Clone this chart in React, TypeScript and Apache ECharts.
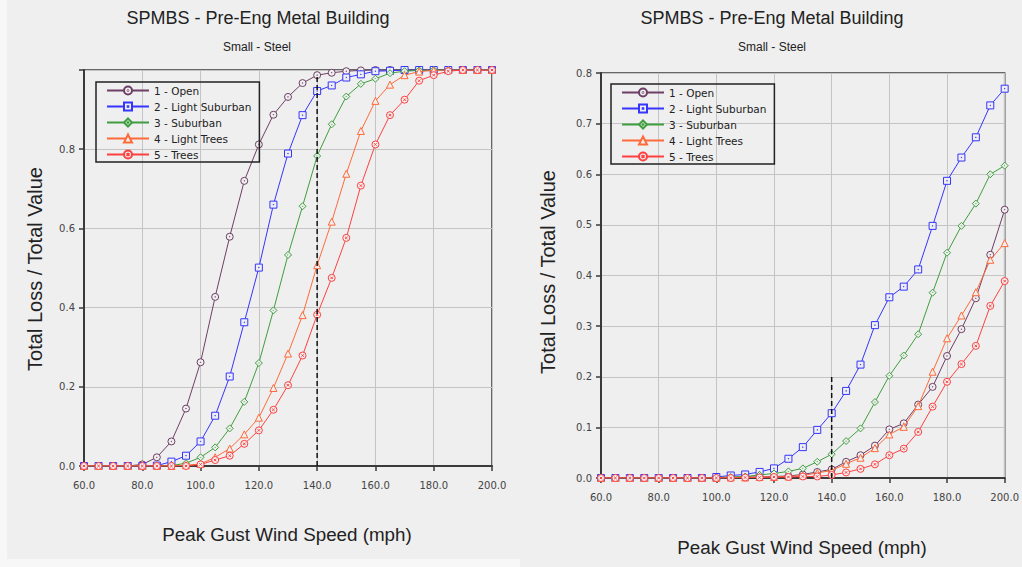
import React, { useEffect, useRef } from "react";
import * as echarts from "echarts";

// ---------- data ----------
const speeds = [60, 65, 70, 75, 80, 85, 90, 95, 100, 105, 110, 115, 120, 125, 130, 135, 140, 145, 150, 155, 160, 165, 170, 175, 180, 185, 190, 195, 200];
const seriesNames = ["1 - Open", "2 - Light Suburban", "3 - Suburban", "4 - Light Trees", "5 - Trees"];

// Left panel
const openL = [0, 0, 0, 0, 0.004, 0.022, 0.062, 0.145, 0.262, 0.427, 0.579, 0.72, 0.812, 0.887, 0.932, 0.967, 0.987, 0.993, 0.997, 0.999, 1, 1, 1, 1, 1, 1, 1, 1, 1];
const lightSubL = [0, 0, 0, 0, 0, 0.001, 0.011, 0.026, 0.062, 0.127, 0.226, 0.363, 0.501, 0.66, 0.789, 0.886, 0.947, 0.961, 0.981, 0.989, 0.997, 0.998, 1, 1, 1, 1, 1, 1, 1];
const suburbanL = [0, 0, 0, 0, 0, 0, 0.001, 0.007, 0.022, 0.047, 0.095, 0.162, 0.26, 0.393, 0.533, 0.656, 0.783, 0.863, 0.933, 0.965, 0.978, 0.992, 0.997, 0.999, 1, 1, 1, 1, 1];
const lightTreesL = [0, 0, 0, 0, 0, 0, 0, 0.002, 0.005, 0.022, 0.044, 0.08, 0.122, 0.197, 0.284, 0.381, 0.507, 0.617, 0.738, 0.846, 0.922, 0.963, 0.987, 0.996, 0.999, 1, 1, 1, 1];
const treesL = [0, 0, 0, 0, 0, 0, 0, 0, 0.004, 0.015, 0.026, 0.056, 0.09, 0.142, 0.204, 0.279, 0.382, 0.475, 0.576, 0.708, 0.812, 0.886, 0.925, 0.973, 0.987, 0.997, 1, 1, 1];

// Right panel
const openR = [0, 0, 0, 0, 0, 0, 0, 0, 0.001, 0.001, 0.002, 0.002, 0.003, 0.004, 0.007, 0.012, 0.017, 0.032, 0.045, 0.064, 0.096, 0.108, 0.145, 0.18, 0.241, 0.294, 0.355, 0.441, 0.53];
const lightSubR = [0, 0, 0, 0, 0, 0, 0, 0, 0.002, 0.005, 0.007, 0.012, 0.019, 0.038, 0.061, 0.095, 0.128, 0.172, 0.224, 0.302, 0.357, 0.378, 0.412, 0.498, 0.587, 0.633, 0.673, 0.736, 0.769];
const suburbanR = [0, 0, 0, 0, 0, 0, 0, 0, 0.001, 0.002, 0.003, 0.006, 0.009, 0.013, 0.019, 0.032, 0.047, 0.073, 0.098, 0.15, 0.202, 0.242, 0.284, 0.366, 0.445, 0.498, 0.542, 0.6, 0.617];
const lightTreesR = [0, 0, 0, 0, 0, 0, 0, 0, 0, 0.001, 0.001, 0.002, 0.002, 0.003, 0.005, 0.01, 0.015, 0.028, 0.04, 0.059, 0.086, 0.101, 0.142, 0.21, 0.276, 0.321, 0.367, 0.431, 0.464];
const treesR = [0, 0, 0, 0, 0, 0, 0, 0, 0, 0, 0.001, 0.001, 0.002, 0.002, 0.003, 0.003, 0.006, 0.011, 0.018, 0.027, 0.045, 0.058, 0.091, 0.141, 0.19, 0.225, 0.261, 0.34, 0.389];

// reference (dashed) lines: [x, yFrom, yTo]
const refLineL = [140, 0, 0.987];
const refLineR = [140, 0, 0.2];

const titleText = "SPMBS - Pre-Eng Metal Building";
const subtitleText = "Small - Steel";
const xName = "Peak Gust Wind Speed (mph)";
const yName = "Total Loss / Total Value";

// ---------- styles ----------
const colors = ["#6e3f66", "#3535ff", "#3f9e3f", "#ff6a3a", "#ff4040"];
const BG = "#efefef";
const symbols = [
  "path://M0 7A7 7 0 1 0 14 7A7 7 0 1 0 0 7Z M6.4 7A0.6 0.6 0 1 0 7.6 7A0.6 0.6 0 1 0 6.4 7Z",
  "path://M0 0L14 0L14 14L0 14Z M6.5 6.5L7.5 6.5L7.5 7.5L6.5 7.5Z",
  "path://M7 0L14 7L7 14L0 7Z M7 6.4L7.6 7L7 7.6L6.4 7Z",
  "path://M7 0L14 13L0 13Z",
  "path://M0 7A7 7 0 1 0 14 7A7 7 0 1 0 0 7Z M4.6 4.6L9.4 9.4 M9.4 4.6L4.6 9.4",
];
const TICK_FONT = "DejaVu Sans";
const TITLE_FONT = "Liberation Sans";

const leftData = [openL, lightSubL, suburbanL, lightTreesL, treesL];
const rightData = [openR, lightSubR, suburbanR, lightTreesR, treesR];

function makeSeries(vals: number[][], axis: number) {
  return vals.map((arr, i) => ({
    type: "line",
    name: seriesNames[i],
    xAxisIndex: axis,
    yAxisIndex: axis,
    data: speeds.map((s, k) => [s, arr[k]]),
    symbol: symbols[i],
    symbolSize: 7,
    showAllSymbol: true,
    lineStyle: { color: colors[i], width: 1 },
    itemStyle: { color: BG, borderColor: colors[i], borderWidth: 1 },
    emphasis: { disabled: true },
    z: 3 + i,
  }));
}

function refSeries(l: number[], axis: number) {
  return {
    type: "line",
    name: "ref" + axis,
    xAxisIndex: axis,
    yAxisIndex: axis,
    data: [[l[0], l[1]], [l[0], l[2]]],
    symbol: "none",
    silent: true,
    lineStyle: { color: "#111", width: 1.5, type: [5, 3] },
    z: 10,
  };
}

function xAxis(grid: number) {
  return {
    type: "value",
    gridIndex: grid,
    min: 60,
    max: 200,
    interval: 20,
    axisLine: { show: true, onZero: false, lineStyle: { color: "#3a3a3a", width: 2 } },
    axisTick: { show: true, length: 5, lineStyle: { color: "#3a3a3a", width: 1.5 } },
    axisLabel: { formatter: (v: number) => v.toFixed(1), fontFamily: TICK_FONT, fontSize: 10, color: "#444", margin: 14 },
    splitLine: { show: true, lineStyle: { color: "#c4c4c4", width: 1 } },
  };
}

function yAxis(grid: number, max: number, interval: number) {
  return {
    type: "value",
    gridIndex: grid,
    min: 0,
    max,
    interval,
    axisLine: { show: true, lineStyle: { color: "#3a3a3a", width: 2 } },
    axisTick: { show: true, length: 5, lineStyle: { color: "#3a3a3a", width: 1.5 } },
    axisLabel: {
      formatter: (v: number) => (v > 0.999 ? "" : v.toFixed(1)),
      fontFamily: TICK_FONT,
      fontSize: 10,
      color: "#444",
      margin: 9,
    },
    splitLine: { show: true, lineStyle: { color: "#c4c4c4", width: 1 } },
  };
}

function legend(left: number, top: number) {
  return {
    left,
    top,
    orient: "vertical",
    itemWidth: 42,
    itemHeight: 10,
    itemGap: 5,
    padding: [3, 8, 2, 10],
    borderColor: "#222",
    borderWidth: 1.5,
    borderRadius: 0,
    backgroundColor: "transparent",
    textStyle: { fontFamily: TICK_FONT, fontSize: 10.5, color: "#222" },
    data: seriesNames,
    selectedMode: false,
  };
}

function txt(x: number, y: number, text: string, size: number, rotation = 0) {
  return {
    type: "text",
    x,
    y,
    rotation,
    silent: true,
    style: {
      text,
      fill: "#222",
      font: `${size}px "${TITLE_FONT}", Arial, sans-serif`,
      align: "center",
      verticalAlign: "middle",
    },
  };
}

const option = {
  animation: false,
  backgroundColor: BG,
  grid: [
    { left: 84, top: 70, width: 408, height: 396, show: true, borderColor: "#3a3a3a", borderWidth: 1.5, backgroundColor: "transparent" },
    { left: 601, top: 73, width: 406, height: 405, show: true, borderColor: "#3a3a3a", borderWidth: 1.5, backgroundColor: "transparent" },
  ],
  xAxis: [xAxis(0), xAxis(1)],
  yAxis: [yAxis(0, 1, 0.2), yAxis(1, 0.8, 0.1)],
  legend: [legend(96, 82), legend(611, 84)],
  graphic: [
    { type: "rect", z: -1, silent: true, shape: { x: 0, y: 0, width: 7, height: 567 }, style: { fill: "#f7f7f7" } },
    { type: "rect", z: -1, silent: true, shape: { x: 0, y: 559, width: 520, height: 8 }, style: { fill: "#f7f7f7" } },
    txt(258, 18, titleText, 18),
    txt(257, 47, subtitleText, 12),
    txt(772, 18, titleText, 18),
    txt(772, 47, subtitleText, 12),
    txt(35, 269, yName, 20, Math.PI / 2),
    txt(548, 272, yName, 20, Math.PI / 2),
    txt(287, 534, xName, 18.8),
    txt(802, 547, xName, 18.8),
  ],
  series: [
    ...makeSeries(leftData, 0),
    ...makeSeries(rightData, 1),
    refSeries(refLineL, 0),
    refSeries(refLineR, 1),
  ],
};

export default function App() {
  const ref = useRef<HTMLDivElement>(null);
  useEffect(() => {
    const chart = echarts.init(ref.current!, null, { renderer: "svg" });
    chart.setOption(option as any);
    return () => chart.dispose();
  }, []);
  return <div ref={ref} style={{ position: "absolute", left: 0, top: 0, width: 1022, height: 567 }} />;
}
